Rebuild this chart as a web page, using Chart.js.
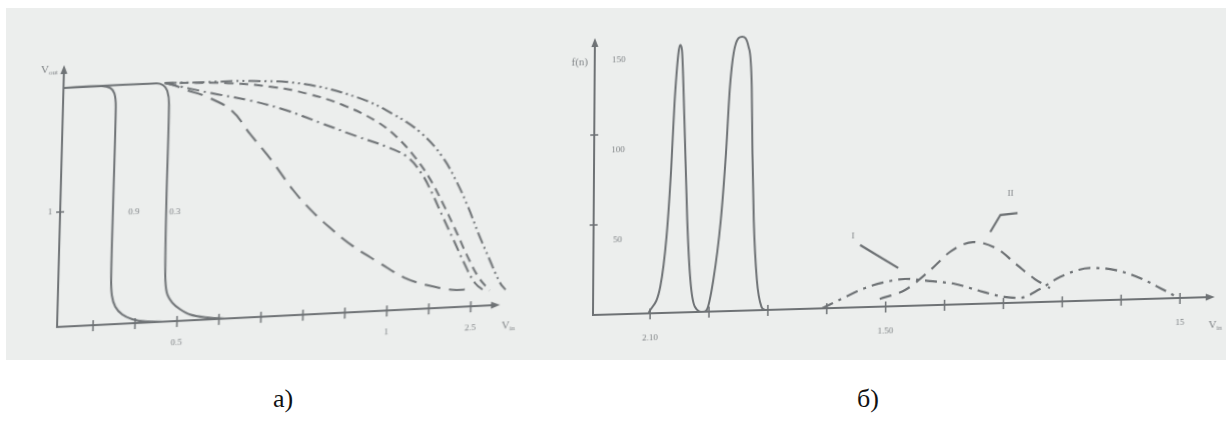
<!DOCTYPE html>
<html>
<head>
<meta charset="utf-8">
<script src="https://cdn.jsdelivr.net/npm/chart.js@4/dist/chart.umd.min.js"></script>
<style>
  body { margin: 0; width: 1231px; height: 424px; background: #fff; position: relative; overflow: hidden; }
  .photo { position: absolute; left: 6px; top: 8px; width: 1220px; height: 352px; background: #eceeed; }
  canvas { position: absolute; top: 0; filter: blur(0.6px); }
  #chartA { left: 0; transform-origin: 57px 327px; transform: matrix(1, -0.05, -0.027, 1, 0, 0); }
  #chartB { left: 560px; transform-origin: 33px 315px; transform: matrix(1, -0.029, -0.007, 1, 0, 0); }
  .caption { position: absolute; top: 386px; font: 26px 'Liberation Serif', serif; color: #111; line-height: 1; transform: translateX(-50%); }
</style>
</head>
<body>
<div class="photo"></div>
<canvas id="chartA" width="560" height="360"></canvas>
<canvas id="chartB" width="671" height="360"></canvas>
<div class="caption" style="left:283px">а)</div>
<div class="caption" style="left:868px">б)</div>
<script>
// а) transfer curves: Vin in tick units, Vout in volts
const vinTicks = [1, 2, 3, 4, 5, 6, 7, 8, 9, 10];
const vinTickLabels = [[3, '0.5'], [8, '1'], [10, '2.5']];
const voutTicks = [1];
const voutTickLabels = [[1, '1']];
const transferTags = [['0.9', 1.90, 0.97], ['0.3', 2.88, 0.95]];

const transferSolid1 = [[0.14, 2.08], [1.05, 2.08], [1.26, 2.06], [1.36, 2.01], [1.40, 1.89], [1.40, 1.11], [1.40, 0.41],
  [1.43, 0.25], [1.52, 0.15], [1.69, 0.08], [1.93, 0.035], [2.24, 0.01], [2.71, 0]];
const transferSolid2 = [[0.14, 2.08], [2.36, 2.08], [2.52, 2.06], [2.62, 2.01], [2.67, 1.89], [2.67, 1.11], [2.69, 0.41],
  [2.74, 0.25], [2.88, 0.16], [3.07, 0.10], [3.31, 0.05], [3.67, 0.02], [4.14, 0]];
const transferLongDash = [[2.55, 2.08], [2.75, 2.06], [3.07, 2.01], [3.57, 1.94], [4.17, 1.81], [4.62, 1.60], [5.15, 1.36],
  [5.69, 1.09], [6.12, 0.91], [6.58, 0.75], [7.17, 0.57], [7.79, 0.42], [8.39, 0.28], [8.98, 0.20], [9.60, 0.15], [9.93, 0.15]];
const transferDashDot = [[2.55, 2.08], [3.15, 2.02], [3.74, 1.965], [4.60, 1.89], [5.46, 1.79], [6.32, 1.66], [7.18, 1.53],
  [7.87, 1.43], [8.39, 1.33], [8.74, 1.18], [9.01, 1.00], [9.28, 0.79], [9.55, 0.585], [9.82, 0.377], [10.09, 0.20], [10.35, 0.12]];
const transferShortDash = [[2.55, 2.08], [4.08, 2.05], [5.10, 2.00], [5.96, 1.925], [6.82, 1.81], [7.60, 1.66], [8.12, 1.51],
  [8.56, 1.33], [8.91, 1.15], [9.27, 0.91], [9.63, 0.64], [9.90, 0.43], [10.17, 0.25], [10.44, 0.13]];
const transferDashDotDot = [[2.55, 2.08], [3.40, 2.07], [4.59, 2.06], [5.87, 2.01], [7.16, 1.87], [8.02, 1.71], [8.71, 1.53],
  [9.24, 1.31], [9.60, 1.08], [9.87, 0.87], [10.14, 0.63], [10.42, 0.40], [10.69, 0.19], [10.82, 0.13]];

// б) distributions f(n)
const nTicks = [1, 2, 3, 4, 5, 6, 7, 8, 9, 10];
const nTickLabels = [[1, '2.10'], [5, '1.50'], [10, '15']];
const fTicks = [50, 100];
const fTickLabels = [[50, '50'], [100, '100'], [150, '150']];
const densityTags = [['I', 4.44, 39.7], ['II', 7.11, 61]];

const densitySolid = [[0.97, 0], [1.17, 14.7], [1.27, 42.3], [1.34, 79.3], [1.39, 116.3], [1.45, 144], [1.48, 148.6],
  [1.51, 145.8], [1.56, 106.9], [1.62, 51.3], [1.68, 17.9], [1.76, 2.9], [1.90, 0], [1.96, 0.9], [2.07, 17.5],
  [2.19, 50.7], [2.27, 87.7], [2.33, 124.7], [2.41, 146.8], [2.53, 152.2], [2.64, 146.6], [2.70, 124.3],
  [2.72, 87.3], [2.75, 50.2], [2.81, 16.8], [2.89, 1.9], [2.95, 0]];
const densityDashed = [[4.90, 4.3], [5.33, 8.9], [5.72, 18.5], [6.11, 29.8], [6.48, 34.4], [6.89, 30.2], [7.23, 20.9],
  [7.53, 12.9], [7.79, 7.6]];
const densityDashDot = [[3.92, 0], [4.31, 5.9], [4.65, 10.6], [4.99, 13.6], [5.33, 15], [5.75, 13.4], [6.18, 11.4],
  [6.60, 7.1], [7.02, 3.4], [7.28, 2.6], [7.62, 7.2], [7.96, 13.6], [8.47, 18.1], [8.89, 16.6], [9.32, 11.7],
  [9.69, 5.3], [9.91, 1.2]];
const leaderI = [[4.56, 34.6], [5.21, 21.2]];
const leaderII = [[6.77, 39.7], [6.94, 49], [7.23, 49.8]];

const ink = '#6e7275';
const textInk = '#7f8386';

function curve(points, dash, opts = {}) {
  return Object.assign({
    data: points.map(([x, y]) => ({ x, y })),
    showLine: true,
    borderColor: ink,
    borderWidth: 2,
    borderDash: dash,
    pointRadius: 0,
    tension: 0.3,
    clip: false,
    fill: false
  }, opts);
}

function drawName(ctx, main, sub, x, y, align) {
  ctx.font = "11px 'Liberation Serif', serif";
  const w1 = ctx.measureText(main).width;
  ctx.font = "7px 'Liberation Serif', serif";
  const w2 = sub ? ctx.measureText(sub).width : 0;
  let left = x;
  if (align === 'right') left = x - w1 - w2;
  if (align === 'center') left = x - (w1 + w2) / 2;
  ctx.textAlign = 'left';
  ctx.font = "11px 'Liberation Serif', serif";
  ctx.fillText(main, left, y);
  if (sub) {
    ctx.font = "7px 'Liberation Serif', serif";
    ctx.fillText(sub, left + w1, y + 3);
  }
}

// hand-drawn style axes: arrows, crossing ticks and small labels
function sketchAxes(cfg) {
  return {
    id: 'sketchAxes',
    afterDatasetsDraw(chart) {
      const { ctx, chartArea: a, scales: { x, y } } = chart;
      ctx.save();
      ctx.strokeStyle = ink;
      ctx.fillStyle = ink;
      ctx.lineWidth = 2;
      ctx.beginPath();
      ctx.moveTo(a.left, a.top + 6);
      ctx.lineTo(a.left, a.bottom);
      ctx.lineTo(a.right - 6, a.bottom);
      ctx.stroke();

      ctx.beginPath();
      ctx.moveTo(a.left, a.top);
      ctx.lineTo(a.left - 3.5, a.top + 9);
      ctx.lineTo(a.left + 3.5, a.top + 9);
      ctx.closePath();
      ctx.moveTo(a.right, a.bottom);
      ctx.lineTo(a.right - 9, a.bottom - 3.5);
      ctx.lineTo(a.right - 9, a.bottom + 3.5);
      ctx.closePath();
      ctx.fill();

      ctx.lineWidth = 1.5;
      ctx.beginPath();
      cfg.xTicks.forEach(v => {
        const px = x.getPixelForValue(v);
        ctx.moveTo(px, a.bottom - 5);
        ctx.lineTo(px, a.bottom + 6);
      });
      cfg.yTicks.forEach(v => {
        const py = y.getPixelForValue(v);
        ctx.moveTo(a.left - 4, py);
        ctx.lineTo(a.left + 4, py);
      });
      ctx.stroke();

      ctx.fillStyle = textInk;
      ctx.font = "9px 'Liberation Serif', serif";
      ctx.textAlign = 'center';
      ctx.textBaseline = 'middle';
      cfg.xLabels.forEach(([v, t]) => ctx.fillText(t, x.getPixelForValue(v), a.bottom + cfg.xLabelGap));
      cfg.yLabels.forEach(([v, t]) => ctx.fillText(t, a.left + cfg.yLabelDx, y.getPixelForValue(v) + cfg.yLabelDy));
      ctx.font = "9px 'Liberation Serif', serif";
      cfg.tags.forEach(([t, vx, vy]) => ctx.fillText(t, x.getPixelForValue(vx), y.getPixelForValue(vy)));

      const yn = cfg.yName, xn = cfg.xName;
      drawName(ctx, yn.main, yn.sub, a.left + yn.dx, a.top + yn.dy, yn.align);
      drawName(ctx, xn.main, xn.sub, a.right + xn.dx, a.bottom + xn.dy, xn.align);
      ctx.restore();
    }
  };
}

const baseOptions = {
  responsive: false,
  animation: false,
  devicePixelRatio: 1,
  plugins: { legend: { display: false }, tooltip: { enabled: false } }
};

new Chart(document.getElementById('chartA'), {
  type: 'scatter',
  data: {
    datasets: [
      curve(transferSolid1, []),
      curve(transferSolid2, []),
      curve(transferLongDash, [16, 9], { tension: 0.4 }),
      curve(transferDashDot, [12, 5, 2, 5], { tension: 0.4 }),
      curve(transferShortDash, [9, 6], { tension: 0.4 }),
      curve(transferDashDotDot, [12, 4, 2, 4, 2, 4], { tension: 0.4 })
    ]
  },
  options: Object.assign({}, baseOptions, {
    layout: { padding: { left: 57, right: 60, top: 65, bottom: 33 } },
    scales: {
      x: { type: 'linear', min: 0.14, max: 10.7, display: false },
      y: { type: 'linear', min: 0, max: 2.28, display: false }
    }
  }),
  plugins: [sketchAxes({
    xTicks: vinTicks, yTicks: voutTicks,
    xLabels: vinTickLabels, yLabels: voutTickLabels, tags: transferTags,
    xLabelGap: 22, yLabelDx: -10, yLabelDy: 0,
    yName: { main: 'V', sub: 'out', dx: -6, dy: 4, align: 'right' },
    xName: { main: 'V', sub: 'in', dx: 2, dy: 21, align: 'left' }
  })]
});

new Chart(document.getElementById('chartB'), {
  type: 'scatter',
  data: {
    datasets: [
      curve(densitySolid, [], { cubicInterpolationMode: 'monotone' }),
      curve(densityDashed, [12, 8], { cubicInterpolationMode: 'monotone', borderWidth: 2.2 }),
      curve(densityDashDot, [12, 6, 3, 6], { cubicInterpolationMode: 'monotone', borderWidth: 2.2 }),
      curve(leaderI, [], { tension: 0, borderWidth: 2.2 }),
      curve(leaderII, [], { tension: 0, borderWidth: 2.2 })
    ]
  },
  options: Object.assign({}, baseOptions, {
    layout: { padding: { left: 33, right: 16, top: 38, bottom: 45 } },
    scales: {
      x: { type: 'linear', min: 0.03, max: 10.59, display: false },
      y: { type: 'linear', min: 0, max: 153.9, display: false }
    }
  }),
  plugins: [sketchAxes({
    xTicks: nTicks, yTicks: fTicks,
    xLabels: nTickLabels, yLabels: fTickLabels, tags: densityTags,
    xLabelGap: 25, yLabelDx: 24, yLabelDy: 16,
    yName: { main: 'f(n)', sub: '', dx: -15, dy: 24, align: 'center' },
    xName: { main: 'V', sub: 'in', dx: -6, dy: 28, align: 'left' }
  })]
});
</script>
</body>
</html>
